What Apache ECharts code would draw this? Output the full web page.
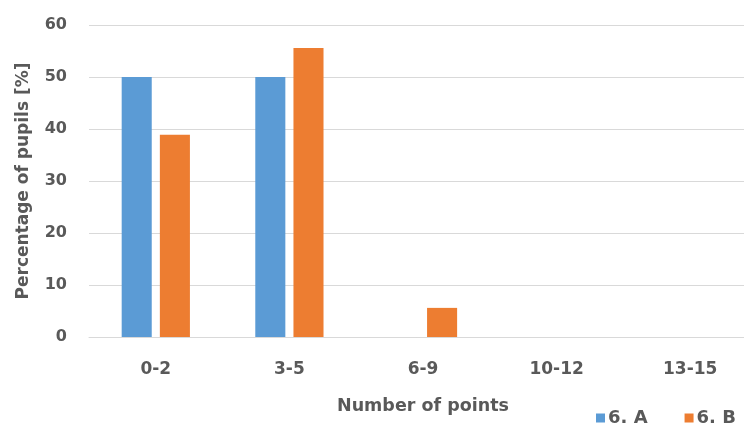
<!DOCTYPE html>
<html>
<head>
<meta charset="utf-8">
<script src="https://cdn.jsdelivr.net/npm/echarts@6/dist/echarts.min.js"></script>
<style>
  html, body { margin: 0; padding: 0; background: #fff; }
  #chart { width: 744px; height: 424px; }
</style>
</head>
<body>
<div id="chart"></div>
<script>
// Score bands and share of pupils per class
const categories = ['0-2', '3-5', '6-9', '10-12', '13-15'];
const class6A = [50, 50, 0, 0, 0];
const class6B = [38.9, 55.6, 5.6, 0, 0];
const yTicks = { min: 0, max: 60, interval: 10 };

const textColor = '#595959';
const fontFamily = '"DejaVu Sans", sans-serif';

const chart = echarts.init(document.getElementById('chart'), null, { renderer: 'canvas' });

chart.setOption({
  animation: false,
  backgroundColor: '#ffffff',
  // the plot runs slightly past the right edge of the canvas
  grid: { left: 89, top: 25, width: 668, height: 312, containLabel: false, outerBoundsMode: 'none' },
  legend: {
    data: ['6. A', '6. B'],
    left: 596,
    top: 409,
    width: 240,
    orient: 'horizontal',
    itemWidth: 9,
    itemHeight: 9,
    itemGap: 37,
    icon: 'rect',
    padding: 0,
    textStyle: { color: textColor, fontSize: 18, fontWeight: 'bold', fontFamily, padding: [0, 0, 0, -2] }
  },
  xAxis: {
    type: 'category',
    data: categories,
    name: 'Number of points',
    nameLocation: 'middle',
    nameGap: 60,
    nameTextStyle: { color: textColor, fontSize: 17.5, fontWeight: 'bold', fontFamily },
    axisLine: { show: true, lineStyle: { color: '#d9d9d9' } },
    axisTick: { show: false },
    axisLabel: { color: textColor, fontSize: 17, fontWeight: 'bold', fontFamily, margin: 24 }
  },
  yAxis: {
    type: 'value',
    min: yTicks.min,
    max: yTicks.max,
    interval: yTicks.interval,
    name: 'Percentage of pupils [%]',
    nameLocation: 'middle',
    nameGap: 57,
    nameTextStyle: { color: textColor, fontSize: 17, fontWeight: 'bold', fontFamily },
    axisLine: { show: false },
    axisTick: { show: false },
    axisLabel: { color: textColor, fontSize: 16, fontWeight: 'bold', fontFamily, margin: 22 },
    splitLine: { lineStyle: { color: '#d9d9d9', width: 1 } }
  },
  series: [
    {
      name: '6. A',
      type: 'bar',
      data: class6A,
      barWidth: '22.5%',
      barGap: '27%',
      itemStyle: { color: '#5b9bd5' }
    },
    {
      name: '6. B',
      type: 'bar',
      data: class6B,
      barWidth: '22.5%',
      itemStyle: { color: '#ed7d31' }
    }
  ]
});
</script>
</body>
</html>
